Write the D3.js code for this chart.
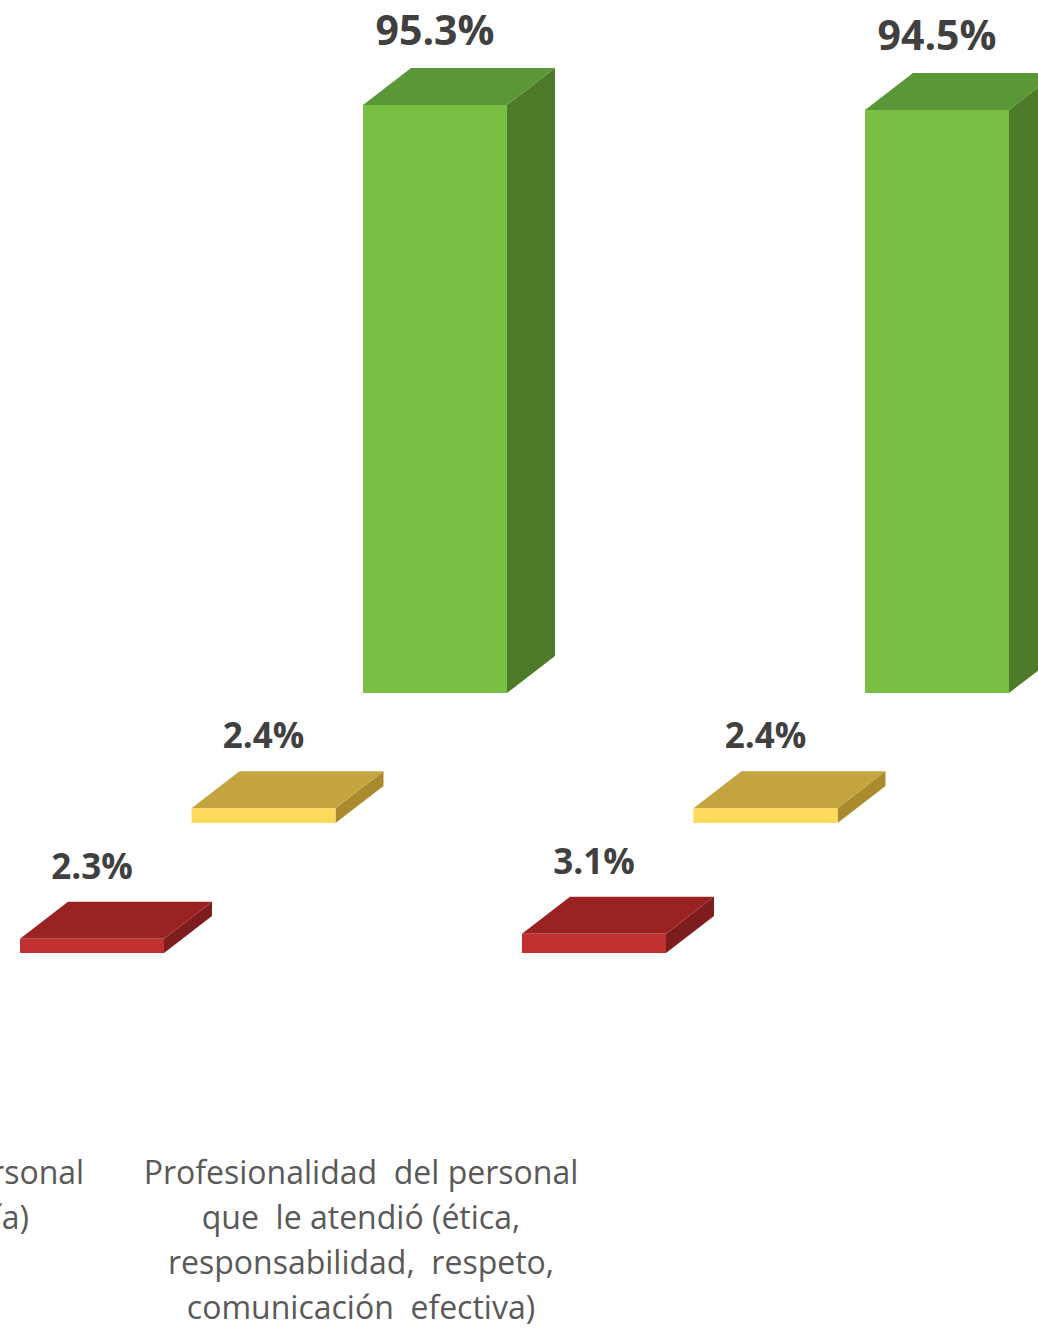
<!DOCTYPE html>
<html lang="es">
<head>
<meta charset="utf-8">
<title>Satisfacción con el personal</title>
<script src="https://cdn.jsdelivr.net/npm/d3@7"></script>
<style>
  html, body { margin: 0; padding: 0; background: #ffffff; }
  svg { display: block; }
  text { font-family: "Open Sans", "Liberation Sans", sans-serif; }
</style>
</head>
<body>
<svg id="chart" width="1038" height="1333"></svg>
<script>
// Categories (each label split into its display lines)
const categories = ["trato", "profesionalidad"];
const categoryLines = [
  ["Trato y atención  del  personal", "(amabilidad y empatía)"],
  ["Profesionalidad  del personal", "que  le atendió (ética,", "responsabilidad,  respeto,", "comunicación  efectiva)"]
];

// Series, front row to back row
const series = ["Insatisfecho", "Regular", "Satisfecho"];
const insatisfecho = [2.3, 3.1];
const regular = [2.4, 2.4];
const satisfecho = [95.3, 94.5];
const seriesValues = [insatisfecho, regular, satisfecho];

// Face colours per series: front, top, side
const palette = {
  "Insatisfecho": { front: "#C13131", top: "#992323", side: "#7E1D1D" },
  "Regular":      { front: "#FFD95C", top: "#C4A43F", side: "#A98B2E" },
  "Satisfecho":   { front: "#79BF43", top: "#5A9736", side: "#4D7B2A" }
};

const svg = d3.select("#chart");

// Category positions along the front edge
const x = d3.scaleBand().domain(categories).range([20, 1024]).paddingInner(0).paddingOuter(0);
const barWidth = 144;

// Depth placement of each series row (oblique projection)
const rowIndex = d3.scalePoint().domain(series).range([0, 2]);
const rowDx = d3.scaleLinear().domain([0, 2]).range([0, 343]);
const rowDy = d3.scaleLinear().domain([0, 2]).range([0, -260]);

// Value -> bar height
const baseY = 953;
const h = d3.scaleLinear().domain([0, 100]).range([0, 617]);

// Bar body depth
const depthDx = 48, depthDy = -37;

const bars = [];
series.forEach((s, si) => {
  categories.forEach((c, ci) => {
    const v = seriesValues[si][ci];
    const i = rowIndex(s);
    const x0 = x(c) + rowDx(i);
    const yb = baseY + rowDy(i);
    const yt = yb - h(v);
    bars.push({ s, c, v, x0, yb, yt, order: i });
  });
});
// paint back rows first
bars.sort((a, b) => b.order - a.order);

const g = svg.append("g");
const barG = g.selectAll("g.bar").data(bars).join("g").attr("class", "bar");

const pts = a => a.map(p => p.join(",")).join(" ");

barG.append("polygon")
  .attr("points", d => pts([[d.x0 + barWidth, d.yt], [d.x0 + barWidth + depthDx, d.yt + depthDy],
                            [d.x0 + barWidth + depthDx, d.yb + depthDy], [d.x0 + barWidth, d.yb]]))
  .attr("fill", d => palette[d.s].side);

barG.append("polygon")
  .attr("points", d => pts([[d.x0, d.yt], [d.x0 + barWidth, d.yt],
                            [d.x0 + barWidth + depthDx, d.yt + depthDy], [d.x0 + depthDx, d.yt + depthDy]]))
  .attr("fill", d => palette[d.s].top);

barG.append("rect")
  .attr("x", d => d.x0)
  .attr("y", d => d.yt)
  .attr("width", barWidth)
  .attr("height", d => d.yb - d.yt)
  .attr("fill", d => palette[d.s].front);

// Value labels above each bar
barG.append("text")
  .attr("x", d => d.x0 + barWidth / 2)
  .attr("y", d => d.yt + depthDy - 23)
  .attr("text-anchor", "middle")
  .attr("font-weight", 700)
  .attr("font-size", d => d.v > 50 ? 41 : 35)
  .attr("fill", "#404040")
  .text(d => d.v.toFixed(1) + "%");

// Category labels beneath the floor
const labelShift = -161;
const catG = svg.append("g")
  .selectAll("text.cat")
  .data(categories)
  .join("text")
  .attr("class", "cat")
  .attr("x", d => x(d) + labelShift)
  .attr("y", 1184)
  .attr("text-anchor", "middle")
  .attr("font-size", 32)
  .attr("fill", "#595959")
  .style("white-space", "pre");

catG.selectAll("tspan")
  .data((d, i) => categoryLines[i])
  .join("tspan")
  .attr("x", function() { return d3.select(this.parentNode).attr("x"); })
  .attr("dy", (d, i) => i === 0 ? 0 : 45)
  .text(d => d);
</script>
</body>
</html>
